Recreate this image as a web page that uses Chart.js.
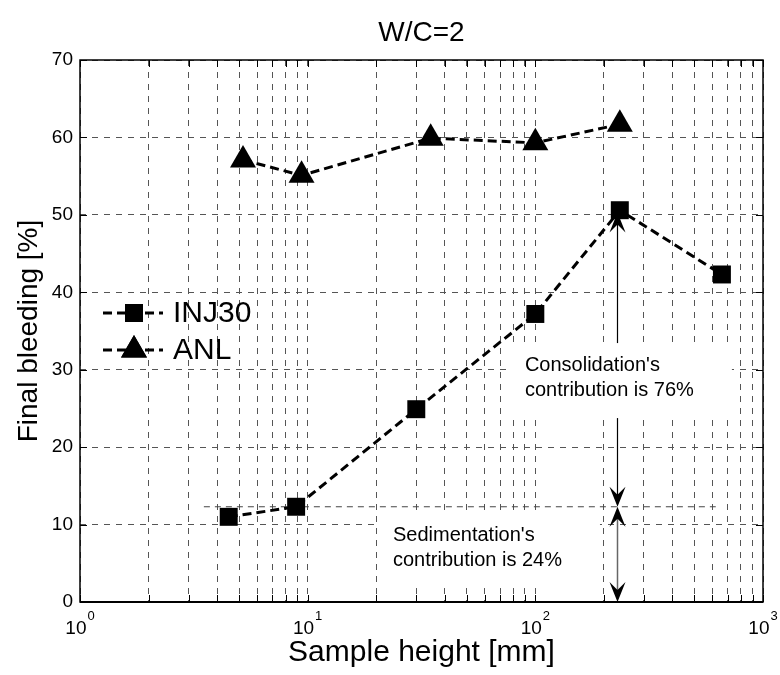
<!DOCTYPE html>
<html>
<head>
<meta charset="utf-8">
<title>Final bleeding vs sample height</title>
<script src="https://cdn.jsdelivr.net/npm/chart.js@4.4.0/dist/chart.umd.min.js"></script>
<style>
  html, body { margin: 0; padding: 0; background: #fff; }
</style>
</head>
<body>
<canvas id="chart" width="780" height="675"></canvas>
<script>
// sample height [mm] and final bleeding [%]
const injHeight = [4.5, 8.9, 30, 100, 235, 660];
const injBleeding = [11.0, 12.3, 24.9, 37.2, 50.6, 42.3];
const anlHeight = [5.2, 9.4, 34.7, 100, 235];
const anlBleeding = [57.1, 55.1, 59.9, 59.3, 61.7];

// log grid (major + minor) and decade labels
const xGrid = [1, 2, 3, 4, 5, 6, 7, 8, 9,
  10, 20, 30, 40, 50, 60, 70, 80, 90,
  100, 200, 300, 400, 500, 600, 700, 800, 900, 1000];
const xDecades = [1, 10, 100, 1000];
const yMin = 0, yMax = 70, yStep = 10;

const chartTitle = 'W/C=2';

// annotation: split of the 230 mm bleeding
const arrowAt = 228;
const consTop = 50.3;
const sedLevel = 12.3;
const sedLineFrom = 3.5, sedLineTo = 620;
const notes = [
  { lines: ["Consolidation's", "contribution is 76%"], x: 90, y: 30.6 },
  { lines: ["Sedimentation's", "contribution is 24%"], x: 23.7, y: 8.65 }
];

const FONT = "'Liberation Sans', Arial, Helvetica, sans-serif";
Chart.defaults.font.family = FONT;
Chart.defaults.color = '#000';

function arrowHead(ctx, x, y, dir) {
  // dir 1 = pointing down, -1 = pointing up; tip at (x, y)
  const L = 20, W = 8, N = 8;
  ctx.beginPath();
  ctx.moveTo(x, y);
  ctx.lineTo(x - W, y - dir * L);
  ctx.lineTo(x, y - dir * (L - N));
  ctx.lineTo(x + W, y - dir * L);
  ctx.closePath();
  ctx.fill();
}

const annotate = {
  id: 'annotate',
  beforeDatasetsDraw(chart) {
    const { ctx, scales: { x, y } } = chart;
    ctx.save();

    // dashed level line of the second INJ30 point
    ctx.strokeStyle = '#444';
    ctx.lineWidth = 1;
    ctx.setLineDash([6, 5]);
    ctx.beginPath();
    ctx.moveTo(x.getPixelForValue(sedLineFrom), y.getPixelForValue(sedLevel));
    ctx.lineTo(x.getPixelForValue(sedLineTo), y.getPixelForValue(sedLevel));
    ctx.stroke();
    ctx.setLineDash([]);

    const ax = Math.round(x.getPixelForValue(arrowAt)) + 0.5;
    const yTop = y.getPixelForValue(consTop);
    const yMid = y.getPixelForValue(sedLevel);
    const yBot = y.getPixelForValue(0);

    // consolidation arrow
    ctx.strokeStyle = '#000';
    ctx.fillStyle = '#000';
    ctx.lineWidth = 1.2;
    ctx.beginPath();
    ctx.moveTo(ax, yTop + 10);
    ctx.lineTo(ax, yMid - 10);
    ctx.stroke();
    arrowHead(ctx, ax, yTop, -1);
    arrowHead(ctx, ax, yMid, 1);

    // sedimentation arrow
    ctx.strokeStyle = '#666';
    ctx.lineWidth = 1.5;
    ctx.beginPath();
    ctx.moveTo(ax, yMid + 10);
    ctx.lineTo(ax, yBot - 10);
    ctx.stroke();
    arrowHead(ctx, ax, yMid, -1);
    arrowHead(ctx, ax, yBot, 1);

    // text boxes
    ctx.font = '20px ' + FONT;
    ctx.textBaseline = 'middle';
    ctx.textAlign = 'left';
    notes.forEach(n => {
      const tx = x.getPixelForValue(n.x);
      const ty = y.getPixelForValue(n.y);
      const w = Math.max(...n.lines.map(s => ctx.measureText(s).width));
      const h = 25 * (n.lines.length - 1);
      ctx.fillStyle = '#fff';
      ctx.fillRect(tx - 15, ty - 22, w + 53, h + 50);
      ctx.fillStyle = '#000';
      n.lines.forEach((s, i) => ctx.fillText(s, tx, ty + i * 25));
    });
    ctx.restore();
  },
  afterDatasetsDraw(chart) {
    const { ctx } = chart;
    // legend, top-left inside the axes
    const rows = [313, 350];
    ctx.save();
    chart.data.datasets.forEach((ds, i) => {
      const ly = rows[i];
      ctx.strokeStyle = '#000';
      ctx.lineWidth = 3;
      ctx.setLineDash([9, 5]);
      ctx.beginPath();
      ctx.moveTo(103, ly);
      ctx.lineTo(163, ly);
      ctx.stroke();
      ctx.setLineDash([]);
      Chart.helpers.drawPoint(ctx, {
        pointStyle: ds.pointStyle, radius: ds.pointRadius, borderWidth: 0, rotation: 0
      }, 134, ly);
      ctx.fillStyle = '#000';
      ctx.fill();
      ctx.font = '30px ' + FONT;
      ctx.textBaseline = 'middle';
      ctx.textAlign = 'left';
      ctx.fillText(ds.label, 173, ly + 1);
    });
    ctx.restore();
  },
  afterDraw(chart) {
    const { ctx, chartArea: a, scales: { x, y } } = chart;
    ctx.save();
    ctx.strokeStyle = '#000';
    ctx.lineWidth = 1;
    // inner tick marks on all four sides
    ctx.beginPath();
    xGrid.forEach(v => {
      const px = Math.round(x.getPixelForValue(v)) + 0.5;
      ctx.moveTo(px, a.bottom); ctx.lineTo(px, a.bottom - 7);
      ctx.moveTo(px, a.top); ctx.lineTo(px, a.top + 7);
    });
    y.ticks.forEach(t => {
      const py = Math.round(y.getPixelForValue(t.value)) + 0.5;
      ctx.moveTo(a.left, py); ctx.lineTo(a.left + 7, py);
      ctx.moveTo(a.right, py); ctx.lineTo(a.right - 7, py);
    });
    ctx.stroke();
    // axes box
    ctx.lineWidth = 1.5;
    ctx.strokeRect(a.left, a.top, a.right - a.left, a.bottom - a.top);
    ctx.lineWidth = 2;
    ctx.beginPath();
    ctx.moveTo(a.left, a.bottom); ctx.lineTo(a.right, a.bottom);
    ctx.stroke();

    // title centred over the axes
    ctx.fillStyle = '#000';
    ctx.font = '28px ' + FONT;
    ctx.textAlign = 'center';
    ctx.textBaseline = 'middle';
    ctx.fillText(chartTitle, (a.left + a.right) / 2, 33);

    // decade labels 10^n
    ctx.textBaseline = 'alphabetic';
    ctx.textAlign = 'left';
    xDecades.forEach(v => {
      const px = x.getPixelForValue(v);
      const e = String(Math.round(Math.log10(v)));
      ctx.font = '19px ' + FONT;
      const wb = ctx.measureText('10').width;
      ctx.font = '13px ' + FONT;
      const we = ctx.measureText(e).width;
      const x0 = px - (wb + we + 1) / 2;
      ctx.font = '19px ' + FONT;
      ctx.fillText('10', x0, 634);
      ctx.font = '13px ' + FONT;
      ctx.fillText(e, x0 + wb + 1, 620);
    });
    ctx.restore();
  }
};

new Chart(document.getElementById('chart'), {
  type: 'line',
  data: {
    datasets: [
      {
        label: 'INJ30',
        data: injHeight.map((h, i) => ({ x: h, y: injBleeding[i] })),
        borderColor: '#000',
        borderWidth: 3,
        borderDash: [9, 5],
        pointStyle: 'rect',
        pointRadius: 12.7,
        pointBackgroundColor: '#000',
        pointBorderWidth: 0,
        fill: false,
        tension: 0,
        clip: false
      },
      {
        label: 'ANL',
        data: anlHeight.map((h, i) => ({ x: h, y: anlBleeding[i] })),
        borderColor: '#000',
        borderWidth: 3,
        borderDash: [9, 5],
        pointStyle: 'triangle',
        pointRadius: 15,
        pointBackgroundColor: '#000',
        pointBorderWidth: 0,
        fill: false,
        tension: 0,
        clip: false
      }
    ]
  },
  options: {
    responsive: false,
    animation: false,
    devicePixelRatio: 1,
    layout: { padding: { left: 0, right: 17, top: 60, bottom: 0 } },
    plugins: {
      legend: { display: false },
      tooltip: { enabled: false },
      title: { display: false }
    },
    scales: {
      x: {
        type: 'logarithmic',
        min: 1,
        max: 1000,
        afterBuildTicks: scale => { scale.ticks = xGrid.map(v => ({ value: v })); },
        afterFit: scale => { scale.height = 73; },
        ticks: { display: false, autoSkip: false },
        grid: { color: '#555', lineWidth: 1, drawTicks: false },
        border: { display: false, dash: [6, 6] },
        title: {
          display: true,
          text: 'Sample height [mm]',
          color: '#000',
          font: { size: 30 },
          padding: { top: 0, bottom: 4 }
        }
      },
      y: {
        min: yMin,
        max: yMax,
        afterFit: scale => { scale.width = 80; },
        ticks: { stepSize: yStep, color: '#000', font: { size: 19 }, padding: 7 },
        grid: { color: '#555', lineWidth: 1, drawTicks: false },
        border: { display: false, dash: [6, 6] },
        title: {
          display: true,
          text: 'Final bleeding [%]',
          color: '#000',
          font: { size: 28 },
          padding: { top: 12, bottom: 0 }
        }
      }
    }
  },
  plugins: [annotate]
});
</script>
</body>
</html>
